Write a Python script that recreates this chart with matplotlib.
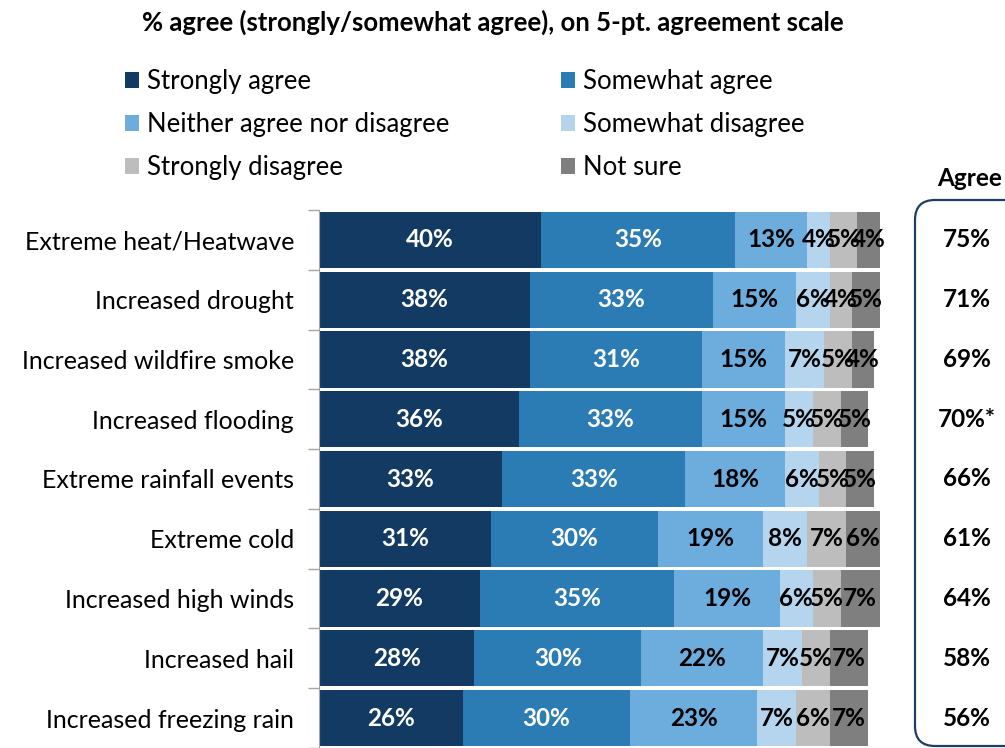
import numpy as np
import matplotlib
matplotlib.use("Agg")
import matplotlib.pyplot as plt
from matplotlib.patches import FancyBboxPatch
from matplotlib.transforms import blended_transform_factory

plt.rcParams['font.family'] = ['Lato', 'DejaVu Sans']

# data
categories = ["Extreme heat/Heatwave", "Increased drought", "Increased wildfire smoke",
              "Increased flooding", "Extreme rainfall events", "Extreme cold",
              "Increased high winds", "Increased hail", "Increased freezing rain"]
strongly_agree = [40, 38, 38, 36, 33, 31, 29, 28, 26]
somewhat_agree = [35, 33, 31, 33, 33, 30, 35, 30, 30]
neither = [13, 15, 15, 15, 18, 19, 19, 22, 23]
somewhat_disagree = [4, 6, 7, 5, 6, 8, 6, 7, 7]
strongly_disagree = [5, 4, 5, 5, 5, 7, 5, 5, 6]
not_sure = [4, 5, 4, 5, 5, 6, 7, 7, 7]
agree_total = ["75%", "71%", "69%", "70%*", "66%", "61%", "64%", "58%", "56%"]

series = [("Strongly agree", strongly_agree, "#133a62", "white"),
          ("Somewhat agree", somewhat_agree, "#2b7bb5", "white"),
          ("Neither agree nor disagree", neither, "#6cadde", "black"),
          ("Somewhat disagree", somewhat_disagree, "#b5d5ee", "black"),
          ("Strongly disagree", strongly_disagree, "#bdbdbd", "black"),
          ("Not sure", not_sure, "#7f7f7f", "black")]

W, H = 1005, 748
fig = plt.figure(figsize=(W / 100, H / 100), dpi=100)

# axes placed in pixel terms
ax_left, ax_top, ax_width = 319, 210, 620
ax = fig.add_axes([ax_left / W, 0, ax_width / W, (H - ax_top) / H])

px_per_pct = 5.55
y = np.arange(len(categories))
left = np.zeros(len(categories))
handles = []
for name, vals, col, tcol in series:
    bars = ax.barh(y, vals, left=left, height=0.94, color=col, label=name)
    ax.bar_label(bars, labels=[f"{v}%" for v in vals], label_type="center",
                 color=tcol, fontsize=17.5, fontweight="bold")
    handles.append(bars)
    left += np.array(vals)

ax.set_xlim(0, ax_width / px_per_pct)
ax.set_ylim(8.414, -0.5)
ax.set_yticks(y)
ax.set_yticklabels(categories, fontsize=18)
ax.tick_params(axis="y", which="major", length=0, pad=18)
ax.set_yticks(np.arange(-0.5, len(categories), 1), minor=True)
ax.tick_params(axis="y", which="minor", length=8, color="#a6a6a6", width=1)
ax.set_xticks([])
for s in ["top", "right", "bottom"]:
    ax.spines[s].set_visible(False)
ax.spines["left"].set_color("#a6a6a6")

# agree column
tr = blended_transform_factory(fig.transFigure, ax.transData)
for i, t in enumerate(agree_total):
    ax.text(967 / W, i, t, transform=tr, ha="center", va="center",
            fontsize=17.5, fontweight="bold", clip_on=False)
fig.text(937 / W, 1 - 178 / H, "Agree", ha="left", va="center",
         fontsize=17.5, fontweight="bold")
box = FancyBboxPatch((9.15, 0.02), 2.0, 5.46, boxstyle="round,pad=0,rounding_size=0.2",
                     transform=fig.dpi_scale_trans, fill=False,
                     edgecolor="#1f3f60", linewidth=1.6)
fig.patches.append(box)

# legend filled column-wise, so reorder to read row-wise
order = [0, 2, 4, 1, 3, 5]
fig.legend([handles[i] for i in order], [series[i][0] for i in order],
           loc="upper left", bbox_to_anchor=(125 / W, 1 - 69 / H), ncol=2,
           frameon=False, fontsize=18.5, handlelength=0.55, handleheight=0.55,
           handletextpad=0.3, columnspacing=4.35, labelspacing=0.7,
           borderpad=0, borderaxespad=0)

fig.text(493 / W, 1 - 22 / H, "% agree (strongly/somewhat agree), on 5-pt. agreement scale",
         ha="center", va="center", fontsize=18.5, fontweight="bold")

fig.savefig("out.png", dpi=100)
